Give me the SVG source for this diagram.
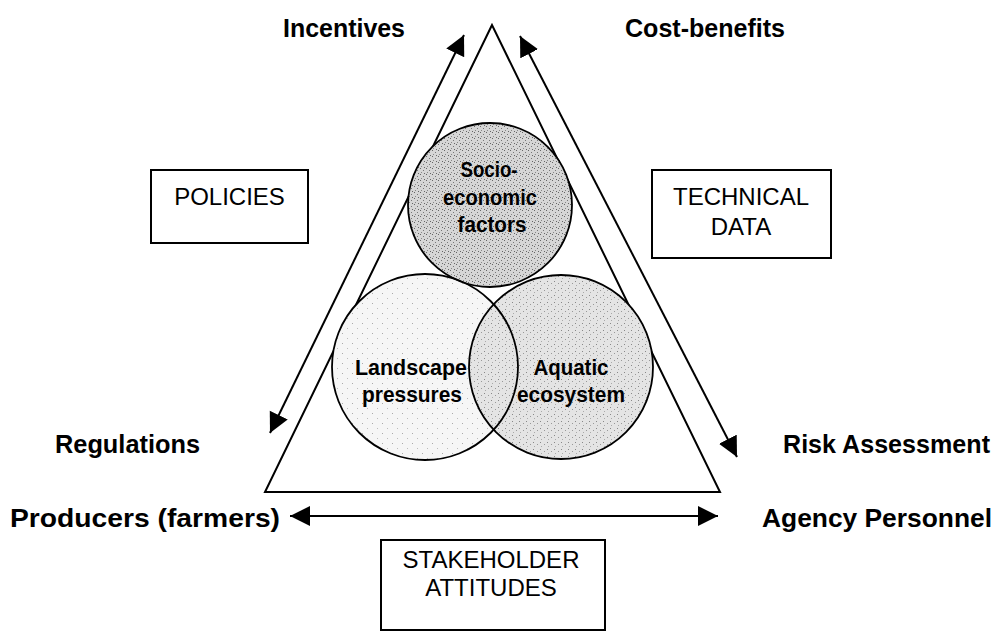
<svg xmlns="http://www.w3.org/2000/svg" width="1003" height="632" viewBox="0 0 1003 632">
<style>
.lbl{font-family:"Liberation Sans",Arial,sans-serif;font-weight:bold;font-size:25px;fill:#000}
.box{fill:#fff;stroke:#000;stroke-width:2}
.boxt{font-family:"Liberation Sans",Arial,sans-serif;font-size:24px;fill:#000;text-anchor:middle}
.venn{font-family:"Liberation Sans",Arial,sans-serif;font-weight:bold;font-size:22px;fill:#000;text-anchor:middle}
.edge{stroke:#000;stroke-width:2;fill:none}
.circ{stroke:#000;stroke-width:1.8}
</style>
<defs>
<marker id="ah" markerUnits="userSpaceOnUse" markerWidth="24" markerHeight="22" refX="20" refY="10" orient="auto-start-reverse">
<path d="M0,0 L20,10 L0,20 Z" fill="#000"/>
</marker>
<pattern id="stipDark" width="6" height="6" patternUnits="userSpaceOnUse">
<rect width="6" height="6" fill="#d6d6d6"/>
<rect x="0" y="0" width="1" height="1" fill="#666"/>
<rect x="3" y="2" width="1" height="1" fill="#777"/>
<rect x="1" y="4" width="1" height="1" fill="#888"/>
<rect x="4" y="5" width="1" height="1" fill="#666"/>
</pattern>
<pattern id="stipMid" width="7" height="7" patternUnits="userSpaceOnUse">
<rect width="7" height="7" fill="#e4e4e4"/>
<rect x="1" y="1" width="1" height="1" fill="#888"/>
<rect x="5" y="3" width="1" height="1" fill="#999"/>
<rect x="2" y="5" width="1" height="1" fill="#aaa"/>
</pattern>
<pattern id="stipLight" width="10" height="10" patternUnits="userSpaceOnUse">
<rect width="10" height="10" fill="#f6f6f6"/>
<rect x="2" y="3" width="1" height="1" fill="#aaa"/>
<rect x="7" y="8" width="1" height="1" fill="#bbb"/>
</pattern>
</defs>
<rect width="1003" height="632" fill="#fff"/>

<g id="triangle">
<polygon points="492,25 265,492 720,492" class="edge"/>
</g>

<g id="circles">
<circle id="landscape-fill" cx="425" cy="367" r="93" fill="url(#stipLight)"/>
<circle id="aquatic-fill" cx="561" cy="367" r="92" fill="url(#stipMid)"/>
<circle id="socio-fill" cx="490" cy="205" r="82" fill="url(#stipDark)"/>
<circle cx="425" cy="367" r="93" class="circ" fill="none"/>
<circle cx="561" cy="367" r="92" class="circ" fill="none"/>
<circle cx="490" cy="205" r="82" class="circ" fill="none"/>
</g>

<g id="connectors">
<line x1="270" y1="433" x2="464" y2="35" class="edge" marker-start="url(#ah)" marker-end="url(#ah)"/>
<line x1="520" y1="36" x2="737" y2="457" class="edge" marker-start="url(#ah)" marker-end="url(#ah)"/>
<line x1="290" y1="516" x2="718" y2="516" class="edge" stroke-width="2.5" marker-start="url(#ah)" marker-end="url(#ah)"/>
</g>

<g id="node-socio">
<text class="venn" x="489" y="177" textLength="57" lengthAdjust="spacingAndGlyphs">Socio-</text>
<text class="venn" x="490" y="205" textLength="94" lengthAdjust="spacingAndGlyphs">economic</text>
<text class="venn" x="492" y="232" textLength="69" lengthAdjust="spacingAndGlyphs">factors</text>
</g>
<g id="node-landscape">
<text class="venn" x="411" y="375" textLength="112" lengthAdjust="spacingAndGlyphs">Landscape</text>
<text class="venn" x="412" y="402" textLength="100" lengthAdjust="spacingAndGlyphs">pressures</text>
</g>
<g id="node-aquatic">
<text class="venn" x="571" y="375" textLength="75" lengthAdjust="spacingAndGlyphs">Aquatic</text>
<text class="venn" x="571" y="402" textLength="108" lengthAdjust="spacingAndGlyphs">ecosystem</text>
</g>

<g id="node-policies">
<rect class="box" x="151" y="170" width="157" height="73"/>
<text class="boxt" x="229.5" y="205">POLICIES</text>
</g>
<g id="node-technical">
<rect class="box" x="652" y="170" width="179" height="88"/>
<text class="boxt" x="741" y="205">TECHNICAL</text>
<text class="boxt" x="741" y="235">DATA</text>
</g>
<g id="node-stakeholder">
<rect class="box" x="381" y="540" width="224" height="90"/>
<text class="boxt" x="491" y="568">STAKEHOLDER</text>
<text class="boxt" x="491" y="596">ATTITUDES</text>
</g>

<g id="labels">
<text class="lbl" x="283" y="37" textLength="122" lengthAdjust="spacingAndGlyphs">Incentives</text>
<text class="lbl" x="625" y="37" textLength="160" lengthAdjust="spacingAndGlyphs">Cost-benefits</text>
<text class="lbl" x="55" y="453" textLength="145" lengthAdjust="spacingAndGlyphs">Regulations</text>
<text class="lbl" x="783" y="453" textLength="207" lengthAdjust="spacingAndGlyphs">Risk Assessment</text>
<text class="lbl" x="10" y="527" textLength="270" lengthAdjust="spacingAndGlyphs">Producers (farmers)</text>
<text class="lbl" x="762" y="527" textLength="230" lengthAdjust="spacingAndGlyphs">Agency Personnel</text>
</g>
</svg>
